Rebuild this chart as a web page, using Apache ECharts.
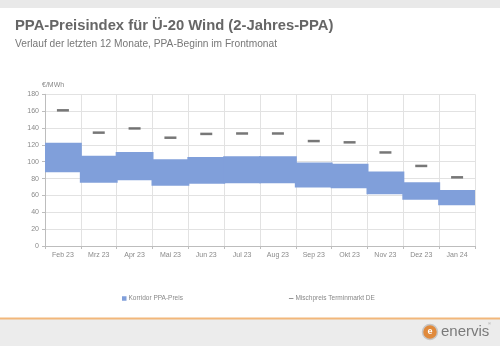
<!DOCTYPE html>
<html>
<head>
<meta charset="utf-8">
<script src="https://cdn.jsdelivr.net/npm/echarts@6/dist/echarts.min.js"></script>
<style>
  html, body { margin: 0; padding: 0; background: #fff; }
  #chart { width: 500px; height: 346px; }
</style>
</head>
<body>
<div id="chart"></div>
<script>
// Monthly PPA price corridor (low/high) and blended forward-market price, €/MWh
const months = ['Feb 23', 'Mrz 23', 'Apr 23', 'Mai 23', 'Jun 23', 'Jul 23', 'Aug 23', 'Sep 23', 'Okt 23', 'Nov 23', 'Dez 23', 'Jan 24'];
const corridorLow  = [87.5, 75, 78, 71.5, 74, 74.5, 74.5, 69.5, 68.5, 61.5, 55, 48.5];
const corridorHigh = [122.5, 107, 111.5, 103, 105.5, 106.5, 106.5, 99, 97.5, 88.5, 75.5, 66.5];
const mischpreis   = [161, 134.5, 139.5, 128.5, 133, 133.5, 133.5, 124.5, 123, 111, 95, 81.5];
const yTicks = { min: 0, max: 180, interval: 20 };

const corridorData = months.map((m, i) => [i, corridorLow[i], corridorHigh[i]]);

const chart = echarts.init(document.getElementById('chart'), null, { renderer: 'canvas' });
const font = '"Liberation Sans", Arial, sans-serif';
const bandColor = '#809fda';

// One filled block per month, spanning the whole category slot so neighbouring
// months join into a continuous stepped corridor.
function renderCorridor(params, api) {
  const idx = api.value(0);
  const lowPt = api.coord([idx, api.value(1)]);
  const highPt = api.coord([idx, api.value(2)]);
  const slot = api.size([1, 0])[0];
  const first = idx === 0;
  const last = idx === months.length - 1;
  const x0 = lowPt[0] - slot / 2 - (first ? 0 : 1);
  const w = slot + (first ? 0 : 1) + (last ? 0 : 1);
  return {
    type: 'rect',
    shape: { x: x0, y: highPt[1], width: w, height: lowPt[1] - highPt[1] },
    style: { fill: bandColor },
    z2: idx
  };
}

chart.setOption({
  animation: false,
  backgroundColor: '#ffffff',
  textStyle: { fontFamily: font },
  title: [
    {
      text: 'PPA-Preisindex für Ü-20 Wind (2-Jahres-PPA)',
      left: 10, top: 13,
      textStyle: { fontSize: 14.8, fontWeight: 'bold', color: '#666666', fontFamily: font }
    },
    {
      text: 'Verlauf der letzten 12 Monate, PPA-Beginn im Frontmonat',
      left: 10, top: 34,
      textStyle: { fontSize: 10.2, fontWeight: 'normal', color: '#777777', fontFamily: font }
    }
  ],
  legend: {
    data: [
      { name: 'Korridor PPA-Preis', icon: 'rect', itemStyle: { color: bandColor } },
      { name: 'Mischpreis Terminmarkt DE', icon: 'path://M0,0M0,3.4h8v1.4h-8zM8,8', itemStyle: { color: '#555555' } }
    ],
    left: 117, top: 290,
    itemGap: 106,
    itemWidth: 4.5, itemHeight: 4.5,
    textStyle: { fontSize: 6.5, color: '#888888', padding: [0, 0, 0, -3] }
  },
  grid: { left: 45, right: 25, top: 94.3, bottom: 100, containLabel: false },
  xAxis: {
    type: 'category',
    data: months,
    z: 0,
    axisLine: { show: true, lineStyle: { color: '#bdbdbd', width: 1 } },
    axisTick: { show: true, alignWithLabel: false, length: 3, lineStyle: { color: '#bdbdbd' } },
    axisLabel: { fontSize: 7, color: '#8a8a8a', margin: 6 },
    splitLine: { show: true, lineStyle: { color: '#e2e2e2', width: 1 } }
  },
  yAxis: {
    type: 'value',
    min: yTicks.min, max: yTicks.max, interval: yTicks.interval,
    z: 0,
    name: '€/MWh',
    nameLocation: 'end',
    nameGap: 6,
    nameTextStyle: { fontSize: 7, color: '#888888', align: 'left', padding: [0, 0, 0, -3] },
    axisLine: { show: true, lineStyle: { color: '#bdbdbd', width: 1 } },
    axisTick: { show: true, length: 3, lineStyle: { color: '#bdbdbd' } },
    axisLabel: { fontSize: 7, color: '#8a8a8a', margin: 6 },
    splitLine: { show: true, lineStyle: { color: '#e2e2e2', width: 1 } }
  },
  series: [
    {
      name: 'Korridor PPA-Preis',
      type: 'custom',
      renderItem: renderCorridor,
      data: corridorData,
      encode: { x: 0, y: [1, 2] },
      itemStyle: { color: bandColor },
      z: 10
    },
    {
      name: 'Mischpreis Terminmarkt DE',
      type: 'scatter',
      data: mischpreis,
      symbol: 'rect',
      symbolSize: [12, 2.5],
      itemStyle: { color: '#555555' },
      z: 12
    }
  ],
  graphic: [
    { type: 'rect', shape: { x: 0, y: 0, width: 500, height: 8 }, style: { fill: '#e9e9e9' }, silent: true },
    { type: 'rect', shape: { x: 0, y: 319, width: 500, height: 27 }, style: { fill: '#ececec' }, silent: true },
    { type: 'rect', shape: { x: 0, y: 317.5, width: 500, height: 2 }, style: { fill: '#f2b77a' }, silent: true },
    { type: 'circle', shape: { cx: 430, cy: 332, r: 7.5 }, style: { fill: '#e08a3c', stroke: '#c7c7c7', lineWidth: 1.5 }, silent: true },
    { type: 'text', x: 430, y: 332, style: { text: 'e', fill: '#ffffff', font: 'bold 9px ' + font, align: 'center', verticalAlign: 'middle' }, silent: true },
    { type: 'text', x: 441, y: 332, style: { text: 'enervis', fill: '#7a7a7a', font: '15px ' + font, align: 'left', verticalAlign: 'middle' }, silent: true },
    { type: 'text', x: 488, y: 324, style: { text: '®', fill: '#9a9a9a', font: '4px ' + font, align: 'left', verticalAlign: 'middle' }, silent: true }
  ]
});
</script>
</body>
</html>
